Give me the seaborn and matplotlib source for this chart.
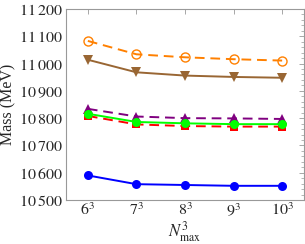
import pandas as pd
import matplotlib
matplotlib.use('Agg')
import matplotlib.pyplot as plt
from matplotlib.ticker import FixedLocator, MultipleLocator, FuncFormatter
import seaborn as sns

# data
nmax_labels = [r'$6^3$', r'$7^3$', r'$8^3$', r'$9^3$', r'$10^3$']
orange_vals = [11083, 11034, 11023, 11016, 11011]
brown_vals = [11014, 10968, 10956, 10951, 10948]
purple_vals = [10834, 10806, 10800, 10799, 10797]
green_vals = [10816, 10786, 10781, 10778, 10778]
red_vals = [10808, 10777, 10771, 10769, 10769]
blue_vals = [10590, 10558, 10555, 10552, 10552]

sns.set_style('white')
plt.rcParams['font.family'] = ['Liberation Serif', 'DejaVu Serif']
plt.rcParams['mathtext.fontset'] = 'stix'

fig = plt.figure(figsize=(3.05, 2.44), dpi=100)
ax = fig.add_axes([66/305, 44/244, 238/305, 191/244])

x = list(range(len(nmax_labels)))

# (values, colour, marker, linestyle, filled)
series = [
    (orange_vals, '#ff8000', 'o', (0, (5, 3)), False),
    (brown_vals, '#996633', 'v', '-', True),
    (purple_vals, '#800080', '^', (0, (5, 3)), True),
    (red_vals, '#ff0000', 's', (0, (5, 3)), True),
    (green_vals, '#00ff00', 'o', '-', True),
    (blue_vals, '#0000ff', 'o', '-', True),
]

for vals, col, mk, ls, filled in series:
    df = pd.DataFrame({'x': x, 'y': vals})
    sns.lineplot(data=df, x='x', y='y', ax=ax, color=col, linestyle=ls,
                 linewidth=1.4, marker=mk, markersize=6.5 if mk != 's' else 6,
                 markerfacecolor=col if filled else 'none',
                 markeredgecolor=col, markeredgewidth=1.0 if not filled else 0)

ax.set_xlim(-0.45, 4.45)
ax.set_ylim(10500, 11200)
ax.xaxis.set_major_locator(FixedLocator(x))
ax.set_xticklabels(nmax_labels)
ax.yaxis.set_major_locator(MultipleLocator(100))
ax.yaxis.set_minor_locator(MultipleLocator(20))
ax.yaxis.set_major_formatter(FuncFormatter(
    lambda v, p: r'$%d\:%03d$' % (int(v) // 1000, int(v) % 1000)))

ax.tick_params(axis='both', which='both', direction='in', top=True, right=True,
               color='#999999', labelsize=11.5, pad=2)
ax.tick_params(which='major', length=3.5, width=0.6)
ax.tick_params(which='minor', length=2, width=0.5)
ax.tick_params(axis='x', pad=2)
for s in ax.spines.values():
    s.set_color('#999999')
    s.set_linewidth(0.8)

ax.set_xlabel(r'$N^3_{\rm max}$', fontsize=12, labelpad=0)
ax.xaxis.set_label_coords(0.5, -0.1)
ax.set_ylabel('Mass (MeV)', fontsize=11.5, labelpad=2)

fig.savefig('out.png', dpi=100)
